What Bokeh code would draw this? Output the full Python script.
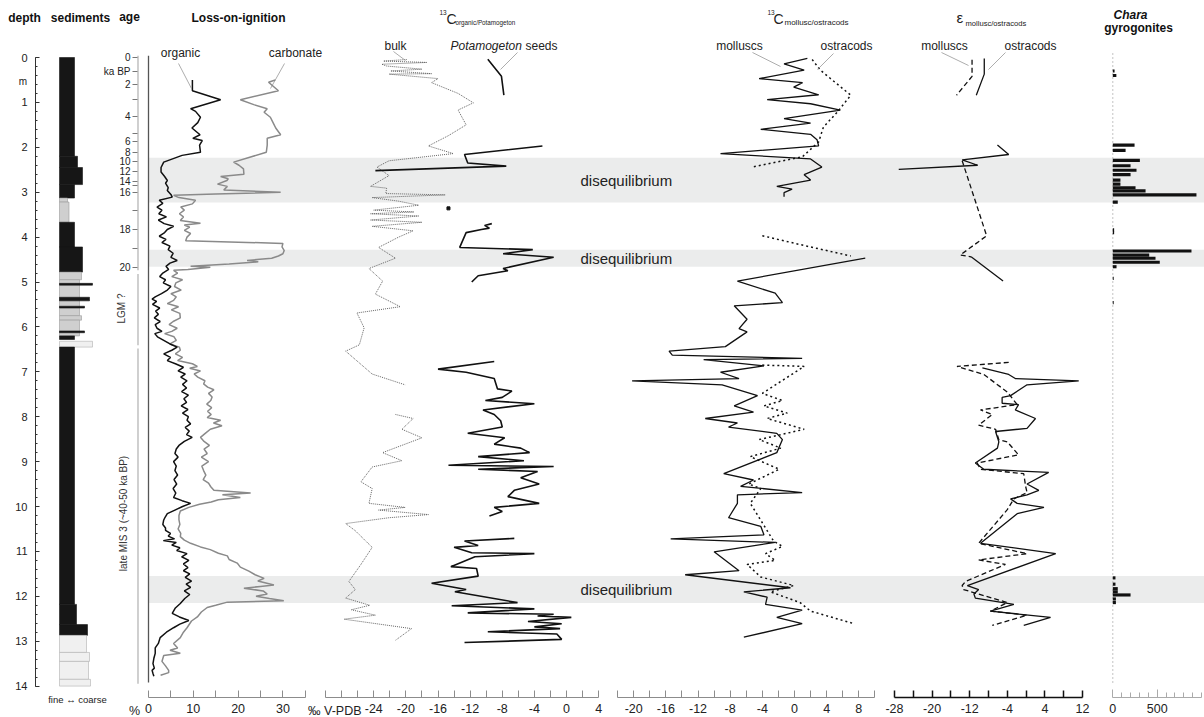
import math
from bokeh.plotting import figure
from bokeh.models import (Range1d, FixedTicker, SingleIntervalTicker, Label, BoxAnnotation,
                          ColumnDataSource, LinearAxis)
from bokeh.embed import file_html
from bokeh.resources import INLINE

NaN = float("nan")

# ---------------- data (depth in m, values) ----------------
sed_top    = [0.00, 2.20, 2.45, 2.83, 3.13, 3.22, 3.67, 4.22, 4.78, 4.95, 5.75, 5.85, 5.03, 5.34, 5.54, 6.09, 6.20, 6.32, 6.45, 12.18, 12.63, 12.87, 13.25, 13.45, 13.85]
sed_bottom = [2.20, 2.45, 2.83, 3.13, 3.22, 3.67, 4.22, 4.78, 4.95, 5.75, 5.85, 6.20, 5.07, 5.42, 5.58, 6.13, 6.28, 6.45, 12.18, 12.63, 12.87, 13.25, 13.45, 13.85, 14.00]
sed_grain  = [15, 18, 23, 15, 8, 9.5, 15, 23, 22, 20, 22, 20, 33, 30, 25, 25, 15, 33, 15, 17, 28, 27, 30, 29, 31]
sed_type   = ["mud"] * 4 + ["sand"] * 2 + ["mud"] * 2 + ["sand"] * 4 + ["mud"] * 5 + ["gravel"] + ["mud"] * 3 + ["gravel"] * 4

age_depth = [0.0, 0.31, 0.60, 0.94, 1.31, 1.69, 1.87, 2.12, 2.32, 2.54, 2.76, 2.86, 3.00, 3.40, 3.83, 4.25, 4.68]
age_label = ["0", "ka BP", "2", "", "4", "", "6", "8", "10", "12", "14", "", "16", "", "18", "", "20"]
age_zone_top = [-0.04, 4.82, 6.48]
age_zone_bottom = [4.74, 6.41, 13.95]

band_top = [2.23, 4.28, 11.55]
band_bottom = [3.23, 4.66, 12.15]

loi_organic = [
    (0.50, 9.8), (0.74, 9.8), (0.94, 16.1), (1.14, 9.4), (1.20, 10.5), (1.33, 11.6), (1.45, 11.0), (1.57, 9.7),
    (1.72, 11.5), (1.80, 9.9), (1.85, 12.0), (1.95, 11.4), (2.11, 11.6), (2.18, 7.5), (2.33, 3.4), (2.45, 2.8),
    (2.55, 2.8), (2.65, 3.6), (2.74, 4.2), (2.80, 3.8), (2.90, 4.4), (2.96, 4.2), (3.05, 5.0), (3.11, 5.3),
    (3.18, 2.4), (3.25, 3.2), (3.33, 1.9), (3.40, 3.0), (3.48, 2.3), (3.55, 4.0), (3.62, 2.2), (3.70, 3.5),
    (3.76, 5.6), (3.83, 4.2), (3.90, 3.6), (3.98, 2.4), (4.05, 3.9), (4.12, 3.0), (4.20, 4.8), (4.28, 4.4),
    (4.36, 5.5), (4.45, 5.0), (4.52, 6.4), (4.58, 4.8), (4.65, 3.9), (4.72, 4.5), (4.80, 3.2), (4.88, 2.5),
    (4.95, 3.8), (5.02, 3.3), (5.10, 5.0), (5.18, 4.2), (5.26, 2.9), (5.33, 1.5), (5.38, 0.8), (5.43, 1.8),
    (5.50, 0.9), (5.58, 2.5), (5.65, 1.6), (5.72, 2.2), (5.80, 1.3), (5.88, 2.6), (5.95, 1.5), (6.03, 1.9),
    (6.10, 3.0), (6.15, 1.4), (6.22, 2.0), (6.30, 3.4), (6.38, 4.8), (6.45, 6.4), (6.52, 5.2), (6.60, 3.4),
    (6.68, 4.9), (6.75, 4.2), (6.82, 6.0), (6.90, 7.8), (6.98, 6.6), (7.05, 8.2), (7.12, 7.2), (7.20, 8.6),
    (7.28, 7.6), (7.36, 8.5), (7.44, 7.4), (7.52, 8.9), (7.60, 7.9), (7.68, 8.5), (7.76, 7.3), (7.84, 8.8),
    (7.92, 7.6), (8.00, 8.9), (8.08, 8.6), (8.16, 9.4), (8.24, 8.2), (8.32, 9.1), (8.40, 8.5), (8.46, 9.75),
    (8.55, 8.0), (8.64, 6.8), (8.72, 6.2), (8.82, 5.9), (8.90, 6.6), (9.00, 5.6), (9.10, 6.2), (9.20, 5.9),
    (9.30, 6.5), (9.40, 5.7), (9.50, 6.3), (9.60, 5.5), (9.70, 6.1), (9.80, 5.6), (9.87, 7.5), (9.93, 9.4),
    (10.00, 7.6), (10.08, 5.9), (10.16, 4.2), (10.24, 3.7), (10.30, 3.4), (10.40, 3.2), (10.48, 3.8), (10.53, 3.8),
    (10.60, 4.9), (10.66, 4.4), (10.72, 5.8), (10.76, 3.3), (10.80, 6.2), (10.86, 5.2), (10.92, 7.0), (10.98, 6.3),
    (11.05, 8.6), (11.12, 7.4), (11.20, 9.0), (11.28, 7.8), (11.36, 8.8), (11.43, 7.8), (11.50, 9.2), (11.58, 8.2),
    (11.66, 9.6), (11.73, 8.4), (11.80, 9.4), (11.88, 8.0), (11.96, 9.2), (12.05, 8.1), (12.16, 7.1), (12.26, 6.0),
    (12.38, 5.3), (12.46, 6.9), (12.54, 9.0), (12.62, 7.0), (12.70, 5.6), (12.80, 4.0), (12.92, 2.6), (13.05, 2.2),
    (13.15, 1.5), (13.27, 1.5), (13.38, 1.2), (13.50, 1.0), (13.60, 1.3), (13.65, 0.8), (13.72, 1.0), (13.78, 1.2),
]

loi_carbonate = [
    (0.50, 28.3), (0.55, 26.8), (0.74, 29.0), (0.94, 20.5), (1.05, 23.5), (1.14, 26.5), (1.22, 25.8), (1.33, 27.2),
    (1.45, 27.8), (1.57, 28.4), (1.72, 29.5), (1.80, 26.5), (1.95, 26.5), (2.11, 26.3), (2.33, 19.0), (2.40, 20.2),
    (2.48, 21.2), (2.60, 21.3), (2.65, 16.1), (2.70, 17.8), (2.74, 17.5), (2.82, 15.4), (2.87, 17.6), (2.95, 16.8),
    (3.00, 29.5), (3.04, 15.0), (3.07, 5.6), (3.12, 6.8), (3.18, 10.5), (3.26, 9.8), (3.33, 7.2), (3.40, 8.0),
    (3.48, 6.9), (3.55, 7.8), (3.63, 7.1), (3.69, 11.6), (3.73, 8.0), (3.78, 9.2), (3.85, 8.0), (3.92, 9.4),
    (4.00, 8.6), (4.08, 8.3), (4.14, 30.0), (4.22, 29.8), (4.30, 30.3), (4.37, 30.0), (4.42, 29.0), (4.47, 27.5),
    (4.52, 22.0), (4.55, 24.5), (4.60, 18.0), (4.65, 9.4), (4.67, 13.8), (4.72, 8.8), (4.74, 5.6), (4.80, 6.5),
    (4.88, 5.2), (4.95, 7.6), (5.02, 6.1), (5.10, 5.8), (5.18, 7.3), (5.26, 5.0), (5.33, 6.2), (5.41, 5.6),
    (5.48, 4.2), (5.55, 6.7), (5.62, 5.1), (5.70, 7.0), (5.80, 7.1), (5.88, 5.5), (5.95, 4.6), (6.03, 6.4),
    (6.10, 5.2), (6.15, 3.6), (6.22, 5.7), (6.30, 6.2), (6.38, 4.8), (6.45, 6.9), (6.52, 7.1), (6.60, 6.0),
    (6.68, 7.6), (6.75, 6.5), (6.82, 9.8), (6.88, 10.9), (6.92, 9.2), (6.98, 11.6), (7.05, 10.2), (7.12, 11.0),
    (7.20, 12.6), (7.27, 12.3), (7.34, 13.2), (7.40, 14.6), (7.48, 13.4), (7.56, 14.2), (7.64, 13.9), (7.72, 13.0),
    (7.80, 14.1), (7.88, 13.2), (7.95, 14.0), (8.02, 13.1), (8.08, 16.1), (8.14, 14.5), (8.20, 16.4), (8.28, 13.8),
    (8.36, 12.8), (8.46, 11.6), (8.55, 12.4), (8.64, 13.6), (8.72, 12.4), (8.82, 13.1), (8.90, 11.8), (9.00, 13.4),
    (9.10, 11.9), (9.20, 12.3), (9.30, 12.8), (9.40, 12.2), (9.48, 13.4), (9.56, 13.9), (9.64, 14.6), (9.70, 22.8),
    (9.74, 16.5), (9.80, 20.5), (9.85, 15.6), (9.90, 14.0), (9.95, 11.4), (10.02, 9.0), (10.10, 7.1), (10.20, 6.8),
    (10.30, 6.8), (10.40, 7.0), (10.50, 6.6), (10.60, 7.2), (10.67, 7.1), (10.75, 8.0), (10.82, 9.4), (10.90, 11.6),
    (10.96, 13.8), (11.04, 15.6), (11.10, 17.6), (11.18, 18.0), (11.26, 19.8), (11.35, 20.5), (11.44, 22.4), (11.52, 23.8),
    (11.60, 25.8), (11.66, 24.4), (11.75, 28.0), (11.78, 25.0), (11.82, 21.3), (11.88, 25.6), (11.95, 26.5), (12.00, 24.0),
    (12.05, 27.0), (12.10, 30.2), (12.13, 17.6), (12.20, 15.0), (12.25, 13.1), (12.35, 11.8), (12.46, 10.9), (12.55, 9.6),
    (12.70, 8.6), (12.80, 7.8), (12.92, 7.1), (13.05, 5.6), (13.15, 6.5), (13.20, 4.8), (13.27, 7.1), (13.32, 3.4),
    (13.45, 3.0), (13.55, 3.8), (13.65, 4.5), (13.70, 4.5), (13.76, 2.7),
]

d13c_bulk = [
    (0.045, -19.9), (0.08, -22.8), (0.11, -17.4), (0.15, -23.0), (0.19, -22.4), (0.26, -18.0), (0.30, -21.9),
    (0.36, -16.8), (0.37, -22.1), (0.47, -16.0), (0.56, -16.8), (0.80, -13.5), (1.01, -11.6), (1.17, -13.5),
    (1.50, -12.5), (1.74, -14.7), (1.97, -17.2), (2.14, -14.1), (2.30, -22.1), (2.44, -23.6), (2.63, -22.1),
    (2.87, -24.4), (2.91, -22.4), (3.03, -22.5), (3.06, -15.1), (3.12, -24.2), (3.20, -20.9), (3.29, -18.4),
    (3.40, -24.0), (3.44, -19.0), (3.48, -24.4), (3.53, -18.4), (3.62, -24.4), (3.67, -18.0), (3.76, -24.2),
    (3.86, -19.1), (4.00, -20.9), (4.23, -23.4), (4.47, -21.3), (4.70, -24.6), (4.98, -22.9), (5.27, -23.8),
    (5.55, -20.7), (5.69, -26.1), (6.02, -25.2), (6.40, -25.8), (6.54, -27.5), (7.05, -24.2), (7.29, -20.1),
    (NaN, NaN),
    (7.95, -21.3), (8.04, -19.1), (8.28, -20.5), (8.47, -18.0), (8.80, -22.9), (8.98, -20.5), (9.12, -24.2),
    (9.45, -25.6), (9.60, -24.2), (9.93, -24.6), (10.02, -20.1), (10.08, -23.4), (10.18, -17.2), (10.25, -22.1),
    (10.38, -27.5), (10.54, -26.3), (10.91, -24.2), (11.29, -25.6), (11.67, -27.1), (11.85, -26.3), (12.04, -27.5),
    (12.20, -24.5), (12.30, -26.8), (12.42, -23.8), (12.51, -27.7), (12.72, -19.3), (12.98, -21.3),
]

d13c_potamogeton = [
    (0.04, -9.8), (0.42, -8.1), (0.84, -7.8), (NaN, NaN),
    (1.97, -3.0), (2.16, -12.7), (2.35, -12.3), (2.42, -7.5), (2.52, -23.8), (NaN, NaN),
    (3.70, -9.3), (3.74, -10.2), (3.80, -9.6), (3.83, -10.6), (3.90, -12.5), (4.23, -13.3), (4.28, -4.2),
    (4.37, -7.9), (4.45, -1.6), (4.70, -7.9), (4.75, -7.3), (4.86, -11.0), (5.00, -11.8), (NaN, NaN),
    (6.77, -9.0), (6.94, -16.0), (7.01, -12.5), (7.15, -9.0), (7.38, -8.6), (7.43, -6.8), (7.57, -8.0),
    (7.64, -10.1), (7.71, -4.0), (7.85, -10.4), (7.95, -9.0), (8.09, -8.2), (8.23, -8.0), (8.37, -12.3),
    (8.47, -7.7), (8.61, -9.0), (8.70, -5.7), (8.80, -4.6), (8.89, -11.0), (8.98, -5.3), (9.08, -14.7),
    (9.11, -1.6), (9.17, -11.0), (9.22, -3.6), (9.36, -5.7), (9.50, -3.4), (9.64, -6.5), (9.78, -7.3),
    (9.93, -3.4), (10.02, -9.0), (10.11, -8.0), (10.21, -9.6), (NaN, NaN),
    (10.71, -6.5), (10.77, -12.7), (10.87, -11.0), (10.91, -14.0), (11.03, -11.8), (11.05, -4.0), (11.12, -11.4),
    (11.34, -14.4), (11.38, -11.2), (11.55, -11.0), (11.71, -16.8), (11.81, -13.7), (11.85, -12.5), (11.90, -13.9),
    (12.14, -6.1), (12.21, -14.3), (12.28, -4.0), (12.37, -12.3), (12.40, -1.6), (12.44, -3.6), (12.47, 0.6),
    (12.56, -4.8), (12.61, -0.6), (12.68, -4.0), (12.72, -0.8), (12.79, -9.8), (12.84, -1.2), (12.96, -0.6),
    (13.03, -12.7),
]
potamogeton_single = [(3.36, -14.7)]

d13c_molluscs = [
    (0.02, 1.6), (0.14, -1.3), (0.28, 1.2), (0.47, -4.4), (0.56, 1.0), (0.66, -0.1), (0.83, 3.0), (0.94, -3.4),
    (1.03, 2.0), (1.17, 5.7), (1.36, -1.3), (1.46, 2.0), (1.60, -4.2), (1.71, 2.0), (1.83, 2.8), (1.97, 3.0),
    (2.14, -9.2), (2.26, 2.0), (2.44, 3.4), (2.61, 1.2), (2.73, 2.0), (2.87, -2.2), (2.93, -0.3), (3.01, -1.3),
    (3.10, -1.3), (NaN, NaN),
    (4.47, 8.8), (4.98, -7.1), (5.25, -2.4), (5.46, -1.5), (5.53, -7.5), (5.83, -5.9), (6.04, -6.9), (6.11, -5.9),
    (6.44, -8.6), (6.54, -15.6), (6.63, -15.2), (6.70, 0.95), (6.73, -11.3), (6.87, -3.8), (7.01, -9.2), (7.15, -6.9),
    (7.20, -20.2), (7.29, -9.0), (7.53, -4.6), (7.76, -7.5), (7.90, -5.1), (8.04, -11.1), (8.14, -7.1), (8.23, -8.2),
    (8.37, -2.2), (8.51, -1.5), (8.80, -2.2), (9.27, -8.8), (9.41, -5.1), (9.55, -6.7), (9.69, 0.95), (9.74, -7.1),
    (9.93, -7.1), (10.25, -8.2), (10.44, -4.2), (10.63, -3.8), (10.72, -15.4), (10.80, -2.4), (11.01, -10.0),
    (11.43, -6.9), (11.52, -13.6), (11.81, -0.5), (11.90, -6.3), (12.02, -3.4), (12.18, -3.6), (12.31, 0.95),
    (12.47, -2.2), (12.61, 0.95), (12.91, -6.3),
]

d13c_ostracods = [
    (0.045, 2.2), (0.28, 3.2), (0.84, 7.0), (1.22, 5.3), (1.55, 3.6), (1.88, 3.0), (2.21, 1.0), (2.44, -5.3),
    (NaN, NaN),
    (3.97, -4.0), (4.20, 1.5), (4.42, 7.0), (NaN, NaN),
    (6.85, -4.0), (6.88, 1.2), (7.48, -4.0), (7.64, -1.5), (7.76, -3.8), (7.92, -0.9), (8.04, -3.4), (8.28, 1.2),
    (8.51, -4.4), (8.70, -1.7), (8.89, -5.5), (9.17, -1.9), (9.50, -5.7), (9.60, -4.2), (9.93, -5.5), (10.77, -2.6),
    (10.89, -1.5), (11.05, -3.6), (11.20, -2.4), (11.29, -5.9), (11.57, -4.2), (11.76, -0.1), (11.90, -3.0),
    (12.14, 0.7), (12.33, 2.0), (12.61, 7.4),
]

eps_molluscs = [
    (0.05, -11.5), (0.42, -11.5), (0.84, -14.8), (NaN, NaN),
    (2.30, -13.6), (3.97, -8.4), (4.40, -14.0), (4.44, -11.7), (NaN, NaN),
    (6.79, -3.7), (6.88, -14.7), (7.06, -9.0), (7.45, -4.0), (7.73, -1.9), (7.85, -9.7), (7.95, -7.2),
    (8.19, -10.1), (8.28, -6.5), (8.51, -5.8), (8.56, -4.0), (8.85, -1.6), (9.03, -10.4), (9.17, -9.7),
    (9.27, -0.5), (9.55, -0.1), (9.69, 0.2), (9.83, -2.6), (10.07, -4.0), (10.82, -10.1), (11.05, 0.2),
    (11.19, -10.1), (11.29, -4.4), (11.67, -12.9), (11.76, -13.6), (11.85, -13.3), (12.14, -4.0), (12.33, -7.6),
    (12.42, 0.2), (12.65, -7.2),
]

eps_ostracods = [
    (0.02, -8.9), (0.37, -8.9), (0.84, -10.6), (NaN, NaN),
    (1.95, -6.1), (2.16, -3.7), (2.28, -13.6), (2.40, -10.3), (2.49, -27.1), (NaN, NaN),
    (4.44, -11.7), (4.98, -4.9), (NaN, NaN),
    (6.91, -9.3), (7.06, -3.7), (7.15, -2.3), (7.20, 11.2), (7.29, 0.2), (7.53, -3.3), (7.57, -5.1), (7.70, -5.1),
    (7.73, -1.6), (7.85, -2.3), (8.04, 2.0), (8.26, 0.2), (8.33, -6.5), (8.56, -5.8), (8.70, -6.1), (9.03, -10.8),
    (9.17, -9.0), (9.24, 4.8), (9.50, 0.2), (9.64, 2.7), (9.74, 0.2), (9.83, -3.3), (9.93, -1.9), (10.02, 3.8),
    (10.16, -1.9), (10.82, -9.7), (11.05, 6.3), (11.76, -12.5), (11.85, -10.1), (11.95, -11.1), (12.04, -10.8),
    (12.18, -2.6), (12.33, -7.6), (12.47, 5.2), (12.65, -0.5),
]

chara_depth = [0.30, 0.40, 1.95, 2.07, 2.29, 2.41, 2.51, 2.61, 2.73, 2.82, 2.90, 2.97, 3.06, 3.22, 3.84, 3.90,
               4.31, 4.40, 4.47, 4.56, 4.66, 4.92, 5.46, 11.59, 11.73, 11.83, 11.90, 11.97, 12.06, 12.14]
chara_count = [20, 40, 245, 144, 305, 200, 267, 200, 86, 86, 256, 369, 942, 56, 15, 15,
               886, 410, 481, 529, 42, 10, 10, 30, 30, 56, 56, 200, 35, 35]

loi_ticks, loi_minor = [0, 10, 20, 30], [5, 15, 25, 35]
org_ticks = [-24, -20, -16, -12, -8, -4, 0, 4]
org_minor = [-30, -28, -26, -22, -18, -14, -10, -6, -2, 2]
mol_ticks = [-20, -16, -12, -8, -4, 0, 4, 8]
mol_minor = [-22, -18, -14, -10, -6, -2, 2, 6, 10]
eps_ticks = [-28, -20, -12, -4, 4, 12]
eps_minor = [-24, -16, -8, 0, 8]
chara_ticks = [0, 500]
chara_minor = [100, 200, 300, 400, 600, 700, 800, 900, 1000]

# ---------------- layout ----------------
FONT = "Liberation Sans"
W, H = 1204, 717
Y0 = 57.0          # screen y of depth 0
PXM = 44.9         # pixels per metre


def dy(sy):
    return (sy - Y0) / PXM


AXIS_DEPTH = dy(697)

p = figure(width=W, height=H, x_range=Range1d(0, W), y_range=Range1d(dy(H), dy(0)),
           toolbar_location=None, output_backend="svg", title=None,
           x_axis_location=None, y_axis_location=None,
           min_border_left=0, min_border_right=0, min_border_top=0, min_border_bottom=0)
p.grid.visible = False
p.outline_line_color = None
p.background_fill_color = "white"
p.border_fill_color = "white"

# panel scales: (screen x of value 0, pixels per unit)
panels = {"sed": (59, 1.0), "loi": (148, 4.48), "org": (566, 8.03), "mol": (794, 8.04),
          "eps": (1025.6, 4.7), "chara": (1112.3, 0.0888)}
p.extra_x_ranges = {k: Range1d(-x0 / s, (W - x0) / s) for k, (x0, s) in panels.items()}


def lab(sx, sy, text, size=12, align="center", style="normal", color="#222", angle=0):
    p.add_layout(Label(x=sx, y=dy(sy), text=text, text_font=FONT, text_font_size=f"{size}px",
                       text_align=align, text_baseline="middle", text_font_style=style,
                       text_color=color, angle=angle, angle_units="deg"))


def leader(sx0, sy0, sx1, sy1):
    p.segment(x0=[sx0], y0=[dy(sy0)], x1=[sx1], y1=[dy(sy1)], line_color="#8a8a8a", line_width=0.7)


def bottom_axis(name, major, minor, bounds, color="#8c8c8c", width=1.0, tick=7, minor_tick=7):
    ax = LinearAxis(x_range_name=name, fixed_location=AXIS_DEPTH,
                    ticker=FixedTicker(ticks=major, minor_ticks=minor), bounds=bounds)
    overrides = {}
    for t in major:
        overrides[t] = str(t)
        overrides[str(t)] = str(t)
    ax.major_label_overrides = overrides
    ax.axis_line_color = color
    ax.axis_line_width = width
    ax.major_tick_line_color = color
    ax.minor_tick_line_color = color
    ax.major_tick_line_width = width
    ax.minor_tick_line_width = width
    ax.major_tick_in = tick
    ax.major_tick_out = 0
    ax.minor_tick_in = minor_tick
    ax.minor_tick_out = 0
    ax.major_label_text_font = FONT
    ax.major_label_text_font_size = "12.5px"
    ax.major_label_text_color = "#222"
    ax.major_label_standoff = 6
    p.add_layout(ax, "below")


def split(pairs):
    return [b for _, b in pairs], [a for a, _ in pairs]


# grey "disequilibrium" bands
for t, b in zip(band_top, band_bottom):
    p.add_layout(BoxAnnotation(left=148, right=W, top=t, bottom=b, fill_color="#ebecec",
                               fill_alpha=1.0, line_alpha=0, level="underlay"))

# ---------------- depth + sediments ----------------
ya = LinearAxis(fixed_location=35, ticker=SingleIntervalTicker(interval=1, num_minor_ticks=5), bounds=(0, 14))
ya.axis_line_color = "#333"
ya.major_tick_line_color = "#333"
ya.minor_tick_line_color = "#333"
ya.major_tick_in = 4
ya.major_tick_out = 0
ya.minor_tick_in = 2
ya.minor_tick_out = 0
ya.major_label_standoff = 8
ya.major_label_text_font = FONT
ya.major_label_text_font_size = "11px"
ya.major_label_text_color = "#222"
p.add_layout(ya, "left")

fill_map = {"mud": "#161616", "sand": "#cfcfcf", "gravel": "#f0f0f0"}
line_map = {"mud": "#161616", "sand": "#9a9a9a", "gravel": "#b0b0b0"}
sed_src = ColumnDataSource(dict(top=sed_top, bottom=sed_bottom, right=sed_grain, left=[0] * len(sed_top),
                                fill=[fill_map[t] for t in sed_type], line=[line_map[t] for t in sed_type]))
p.quad(left="left", right="right", top="top", bottom="bottom", fill_color="fill", line_color="line",
       line_width=0.6, source=sed_src, x_range_name="sed")
lab(24, 17, "depth", 12, style="bold", color="#111")
lab(80, 17, "sediments", 12, style="bold", color="#111")
lab(22.5, 80.5, "m", 10)
lab(77, 699, "fine \u2194 coarse", 9.5)

# ---------------- age ----------------
aa = LinearAxis(fixed_location=137, ticker=FixedTicker(ticks=age_depth))
overrides = {}
for d, t in zip(age_depth, age_label):
    overrides[d] = t
    overrides[str(int(d)) if d == int(d) else repr(d)] = t
aa.major_label_overrides = overrides
aa.axis_line_color = None
aa.major_tick_in = 0
aa.major_tick_out = 5
aa.major_tick_line_color = "#777"
aa.major_label_standoff = 2
aa.major_label_text_font = FONT
aa.major_label_text_font_size = "10px"
aa.major_label_text_color = "#222"
p.add_layout(aa, "left")
p.segment(x0=[137.5] * 3, y0=age_zone_top, x1=[137.5] * 3, y1=age_zone_bottom, line_color="#b0b0b0", line_width=1.2)
lab(129, 16, "age", 12, style="bold", color="#111")
lab(121, 308, "LGM ?", 10, angle=90, color="#333")
lab(123, 513, "late MIS 3 (~40-50 ka BP)", 10, angle=90, color="#333")
lab(134, 710, "%", 12.5)

# ---------------- loss on ignition ----------------
bottom_axis("loi", loi_ticks, loi_minor, (0, 35))
p.segment(x0=[0], y0=[age_zone_top[0]], x1=[0], y1=[13.92], line_color="#555", line_width=1.3, x_range_name="loi")
v, d = split(loi_carbonate)
p.line(v, d, line_color="#8a8a8a", line_width=1.5, x_range_name="loi")
v, d = split(loi_organic)
p.line(v, d, line_color="#111", line_width=1.5, x_range_name="loi")
lab(238, 17, "Loss-on-ignition", 12, style="bold", color="#111")
lab(180, 52, "organic", 12)
lab(295, 52, "carbonate", 12)
leader(178, 63, 191, 88)
leader(284, 63, 270, 88)

# ---------------- d13C organic / Potamogeton ----------------
bottom_axis("org", org_ticks, org_minor, (-30, 4))
v, d = split(d13c_bulk)
p.line(v, d, line_color="#555", line_width=0.9, line_dash="1 1", x_range_name="org")
v, d = split(d13c_potamogeton)
p.line(v, d, line_color="#111", line_width=1.6, x_range_name="org")
v, d = split(potamogeton_single)
p.scatter(v, d, marker="square", size=3, color="#111", x_range_name="org")
lab(439, 12, "13", 6.5, align="left")
lab(446, 18, "C", 14, align="left")
lab(455, 22, "organic/Potamogeton", 6.3, align="left")
lab(395, 45, "bulk", 12)
lab(450, 45, "Potamogeton", 12, align="left", style="italic")
lab(525, 45, "seeds", 12, align="left")
lab(361, 710, "\u2030 V-PDB", 12.5, align="right")
leader(393, 51, 405, 60)
leader(517, 52, 500, 69)

# ---------------- d13C molluscs / ostracods ----------------
bottom_axis("mol", mol_ticks, mol_minor, (-22, 10))
v, d = split(d13c_ostracods)
p.line(v, d, line_color="#111", line_width=1.5, line_dash="2 3", x_range_name="mol")
v, d = split(d13c_molluscs)
p.line(v, d, line_color="#111", line_width=1.3, x_range_name="mol")
lab(767, 12, "13", 6.5, align="left")
lab(773, 18, "C", 14, align="left")
lab(784, 22, "mollusc/ostracods", 8, align="left")
lab(739, 45, "molluscs", 12)
lab(846, 45, "ostracods", 12)
leader(752, 52, 780, 66)
leader(833, 53, 817, 69)
for t, b in zip(band_top, band_bottom):
    lab(580, Y0 + PXM * (t + b) / 2, "disequilibrium", 15, align="left")

# ---------------- epsilon ----------------
bottom_axis("eps", eps_ticks, eps_minor, (-28, 12), color="#111", width=1.5)
v, d = split(eps_molluscs)
p.line(v, d, line_color="#111", line_width=1.3, line_dash="5 3", x_range_name="eps")
v, d = split(eps_ostracods)
p.line(v, d, line_color="#111", line_width=1.3, x_range_name="eps")
lab(956, 17, "\u03b5", 15, align="left")
lab(965, 23, "mollusc/ostracods", 7.6, align="left")
lab(944, 45, "molluscs", 12)
lab(1030, 45, "ostracods", 12)
leader(941, 52, 968, 65)
leader(1005, 52, 988, 69)

# ---------------- Chara ----------------
bottom_axis("chara", chara_ticks, chara_minor, (0, 1000), color="#aaaaaa", tick=8, minor_tick=5)
p.segment(x0=[0], y0=[-0.1], x1=[0], y1=[13.95], line_color="#c4c4c4", line_width=1, line_dash="2 2",
          x_range_name="chara")
p.quad(left=[0] * len(chara_depth), right=chara_count,
       top=[x - 0.035 for x in chara_depth], bottom=[x + 0.035 for x in chara_depth],
       fill_color="#111", line_color=None, x_range_name="chara")
lab(1130, 14, "Chara", 12, style="bold italic", color="#111")
lab(1138, 27, "gyrogonites", 12, style="bold", color="#111")

open("out.html", "w").write(file_html(p, INLINE))
